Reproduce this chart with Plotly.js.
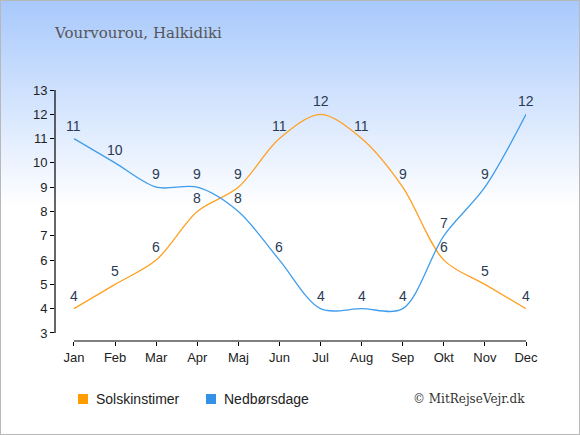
<!DOCTYPE html>
<html><head><meta charset="utf-8">
<script src="https://cdn.plot.ly/plotly-3.0.1.min.js"></script>
<style>
html,body{margin:0;padding:0;}
#chart{width:580px;height:435px;box-sizing:border-box;border:1px solid #b8b8b8;
background:linear-gradient(to bottom,#a8c9fc 0px,#ffffff 205px,#ffffff 435px);}
</style></head>
<body><div id="chart"></div>
<script>
const months = ["Jan","Feb","Mar","Apr","Maj","Jun","Jul","Aug","Sep","Okt","Nov","Dec"];
const sunHours = [4,5,6,8,9,11,12,11,9,6,5,4];
const rainDays = [11,10,9,9,8,6,4,4,4,7,9,12];
const seriesNames = ["Solskinstimer","Nedbørsdage"];
const title = "Vourvourou, Halkidiki";
const credit = "© MitRejseVejr.dk";
const yTicks = [3,4,5,6,7,8,9,10,11,12,13];

const orange = "#ffa020", blue = "#3f9ded";
const xIdx = months.map((m,i)=>i);

function lineTrace(y,color,name){
  return {x:xIdx,y:y,type:"scatter",mode:"lines",name:name,showlegend:false,
    line:{color:color,width:1.3,shape:"spline",smoothing:0.9},
    cliponaxis:false,hoverinfo:"skip"};
}
const data = [lineTrace(sunHours,orange,seriesNames[0]), lineTrace(rainDays,blue,seriesNames[1])];

function valueLabels(y){
  return y.map((v,i)=>({x:xIdx[i],y:v,xref:"x",yref:"y",text:String(v),showarrow:false,
    yshift:13,font:{family:"Liberation Sans, Arial",size:14,color:"#2b3a55"}}));
}

const layout = {
  width:578,height:433,
  paper_bgcolor:"rgba(0,0,0,0)",plot_bgcolor:"rgba(0,0,0,0)",
  margin:{l:54,r:53,t:89,b:93},
  showlegend:false,
  xaxis:{range:[-0.462,11],tickvals:xIdx,ticktext:months,showgrid:false,zeroline:false,
    showline:false,ticks:"outside",ticklen:4,tickcolor:"#000",
    tickfont:{family:"Liberation Sans, Arial",size:13,color:"#222"},fixedrange:true},
  yaxis:{range:[2.67,13],tickvals:yTicks,showgrid:false,zeroline:false,showline:false,
    ticks:"outside",ticklen:4,tickcolor:"#000",
    tickfont:{family:"Liberation Sans, Arial",size:13,color:"#222"},fixedrange:true},
  shapes:[
    {type:"line",xref:"x",yref:"paper",x0:0,x1:11,y0:0,y1:0,line:{color:"#000",width:1.2}},
    {type:"line",xref:"paper",yref:"y",x0:0,x1:0,y0:3,y1:13,line:{color:"#000",width:1.2}},
    {type:"rect",xref:"paper",yref:"paper",x0:(77-54)/471,x1:(87-54)/471,y0:-(398-340+5)/251,y1:-(398-340-5)/251,
      fillcolor:"#ff9c00",line:{width:0}},
    {type:"rect",xref:"paper",yref:"paper",x0:(205-54)/471,x1:(215-54)/471,y0:-(398-340+5)/251,y1:-(398-340-5)/251,
      fillcolor:"#3392e8",line:{width:0}}
  ],
  annotations:[
    {text:title,xref:"paper",yref:"paper",x:(51-54)/471,y:1+(89-32)/251,xanchor:"left",yanchor:"middle",
      showarrow:false,font:{family:"DejaVu Serif, Liberation Serif",size:15,color:"#555"}},
    {text:seriesNames[0],xref:"paper",yref:"paper",x:(93-54)/471,y:-(398-340)/251,xanchor:"left",yanchor:"middle",
      showarrow:false,font:{family:"Liberation Sans, Arial",size:14,color:"#222"}},
    {text:seriesNames[1],xref:"paper",yref:"paper",x:(221-54)/471,y:-(398-340)/251,xanchor:"left",yanchor:"middle",
      showarrow:false,font:{family:"Liberation Sans, Arial",size:14,color:"#222"}},
    {text:credit,xref:"paper",yref:"paper",x:(526-54)/471,y:-(398-340)/251,xanchor:"right",yanchor:"middle",
      showarrow:false,font:{family:"DejaVu Serif, Liberation Serif",size:12,color:"#333"}}
  ].concat(valueLabels(sunHours), valueLabels(rainDays))
};
Plotly.newPlot("chart",data,layout,{displayModeBar:false,staticPlot:true});
</script></body></html>
